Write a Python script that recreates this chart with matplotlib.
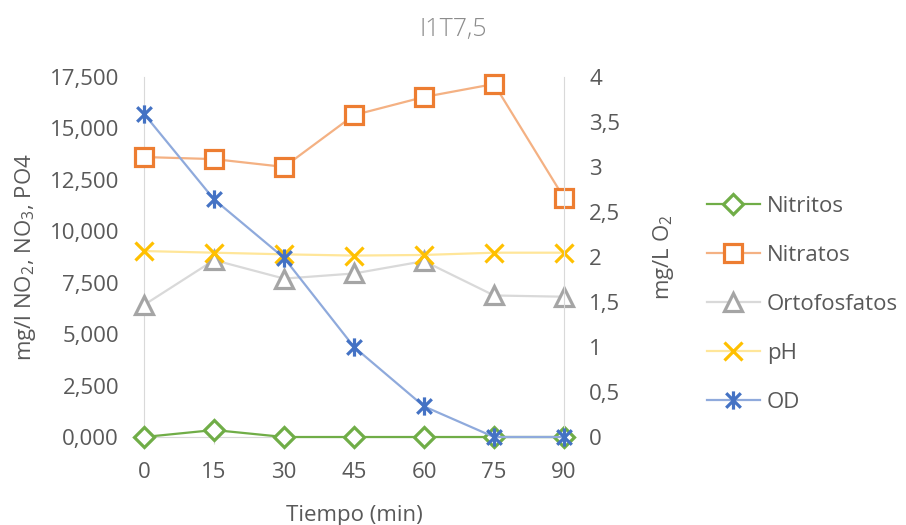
import matplotlib
matplotlib.use("Agg")
import matplotlib.pyplot as plt
from matplotlib.path import Path
from matplotlib.ticker import FuncFormatter

# ==========================================
# Data
# ==========================================

tiempo = [0, 15, 30, 45, 60, 75, 90]
nitritos = [0.0, 0.34, 0.0, 0.0, 0.0, 0.0, 0.0]
nitratos = [13.61, 13.51, 13.13, 15.65, 16.53, 17.16, 11.62]
ortofosfatos = [6.42, 8.60, 7.70, 7.95, 8.55, 6.88, 6.82]
ph = [9.04, 8.96, 8.88, 8.82, 8.85, 8.96, 8.96]
od = [3.59, 2.64, 1.99, 1.00, 0.34, 0.0, 0.0]

# ==========================================
# Style
# ==========================================

plt.rcParams["font.family"] = ["Open Sans", "DejaVu Sans"]
plt.rcParams["mathtext.fontset"] = "custom"
plt.rcParams["mathtext.rm"] = "Open Sans"
plt.rcParams["mathtext.it"] = "Open Sans"

text_col = "#595959"
axis_col = "#D9D9D9"
fs = 16

# Excel style asterisk: x plus vertical bar
star = Path(
    [(-1, -1), (1, 1), (-1, 1), (1, -1), (0, -1.25), (0, 1.25)],
    [Path.MOVETO, Path.LINETO, Path.MOVETO, Path.LINETO, Path.MOVETO, Path.LINETO],
)

fig = plt.figure(figsize=(9.06, 5.25), dpi=100)
ax = fig.add_axes([0.159, 0.1676, 0.4636, 0.6857])
ax2 = ax.twinx()

ms = 12.5
mew = 2.3

ax.plot(tiempo, nitritos, color="#70AD47", lw=1.6, marker="D", ms=ms * 0.85,
        mfc="white", mec="#70AD47", mew=mew, label="Nitritos", clip_on=False, zorder=5)
ax.plot(tiempo, nitratos, color="#F4B183", lw=1.6, marker="s", ms=ms,
        mfc="white", mec="#ED7D31", mew=mew, label="Nitratos", clip_on=False, zorder=4)
ax.plot(tiempo, ortofosfatos, color="#D9D9D9", lw=1.6, marker="^", ms=ms,
        mfc="white", mec="#A5A5A5", mew=mew, label="Ortofosfatos", clip_on=False, zorder=3)
ax.plot(tiempo, ph, color="#FFE699", lw=1.6, marker="x", ms=ms,
        mec="#FFC000", mew=mew, label="pH", clip_on=False, zorder=3)
ax2.plot(tiempo, od, color="#8FAADC", lw=1.6, marker=star, ms=ms * 1.05,
         mec="#4472C4", mew=mew, label="OD", clip_on=False, zorder=5)

# ==========================================
# Axes
# ==========================================

ax.set_xlim(0, 90)
ax.set_xticks(tiempo)
ax.set_ylim(0, 17.5)
ax.set_yticks([i * 2.5 for i in range(8)])
ax.yaxis.set_major_formatter(FuncFormatter(lambda v, p: f"{v:.3f}".replace(".", ",")))
ax2.set_ylim(0, 4)
ax2.set_yticks([i * 0.5 for i in range(9)])
ax2.yaxis.set_major_formatter(FuncFormatter(lambda v, p: f"{v:g}".replace(".", ",")))

for a in (ax, ax2):
    for s in a.spines.values():
        s.set_visible(False)
    a.spines["left"].set_visible(a is ax)
    a.spines["right"].set_visible(a is ax2)
    a.spines["left"].set_color(axis_col)
    a.spines["right"].set_color(axis_col)
    a.tick_params(axis="y", length=0, labelsize=fs, labelcolor=text_col)

ax.spines["bottom"].set_visible(True)
ax.spines["bottom"].set_color(axis_col)
ax.tick_params(axis="x", length=5, color=axis_col, labelsize=fs, labelcolor=text_col, pad=13)
ax.tick_params(axis="y", pad=18)
ax2.tick_params(axis="y", pad=18)

ax.set_xlabel("Tiempo (min)", fontsize=fs, color=text_col, labelpad=16)
ax.set_ylabel("mg/l NO$_2$, NO$_3$, PO4", fontsize=fs, color=text_col, labelpad=8)
ax2.set_ylabel("mg/L O$_2$", fontsize=fs, color=text_col, labelpad=22)

fig.text(0.5, 0.943, "I1T7,5", ha="center", va="center", fontsize=18,
         color="#8C8C8C", fontweight="light")

h1, l1 = ax.get_legend_handles_labels()
h2, l2 = ax2.get_legend_handles_labels()
fig.legend(h1 + h2, l1 + l2, loc="center left", bbox_to_anchor=(0.758, 0.42),
           frameon=False, fontsize=fs, labelcolor=text_col, handlelength=2.4,
           labelspacing=1.26, handletextpad=0.3)

fig.savefig("out.png", dpi=100)
